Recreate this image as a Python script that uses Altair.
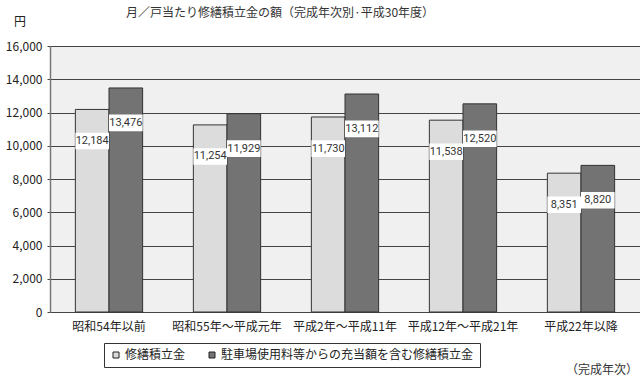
import altair as alt
import pandas as pd

categories = ["昭和54年以前", "昭和55年～平成元年", "平成2年～平成11年", "平成12年～平成21年", "平成22年以降"]
series = ["修繕積立金", "駐車場使用料等からの充当額を含む修繕積立金"]
values_a = [12184, 11254, 11730, 11538, 8351]
values_b = [13476, 11929, 13112, 12520, 8820]
y_ticks = [0, 2000, 4000, 6000, 8000, 10000, 12000, 14000, 16000]

rows = []
for c, a, b in zip(categories, values_a, values_b):
    rows.append({"cat": c, "series": series[0], "value": a, "order": 0})
    rows.append({"cat": c, "series": series[1], "value": b, "order": 1})
df = pd.DataFrame(rows)

FONT = "Noto Sans CJK JP"
W, H = 590, 266

x = alt.X("cat:N", sort=categories, title=None,
          scale=alt.Scale(paddingInner=0.43, paddingOuter=0.215),
          axis=alt.Axis(labelAngle=0, labelFontSize=12, labelColor="#222", labelFont=FONT,
                        ticks=False, domain=False, labelPadding=9, labelLimit=200))
xo = alt.XOffset("series:N", sort=series, scale=alt.Scale(paddingInner=0, paddingOuter=0))
color = alt.Color("series:N", sort=series,
                  scale=alt.Scale(domain=series, range=["#dcdcdc", "#737373"]),
                  legend=alt.Legend(title=None, orient="none", legendX=54, legendY=297,
                                    direction="horizontal", strokeColor="#333", padding=6,
                                    symbolType="square", symbolSize=36, symbolStrokeColor="#222",
                                    symbolStrokeWidth=1, labelFontSize=12, labelFont=FONT,
                                    labelColor="#222", columnPadding=20, labelLimit=400,
                                    labelOffset=3))

yscale = alt.Scale(domain=[0, 16000], nice=False)
yaxis = alt.Axis(values=y_ticks, format=",.0f", labelFontSize=12, labelColor="#222",
                 labelFont=FONT, tickSize=3, tickColor="#444", gridColor="#444",
                 gridWidth=1, domainColor="#777", domainWidth=1.5, labelPadding=5, title=None)
base = alt.Chart(df)

bars = base.mark_bar(stroke="#333", strokeWidth=1).encode(
    x=x, xOffset=xo,
    y=alt.Y("value:Q", title=None, scale=yscale, axis=yaxis),
    color=color,
)

boxes = base.transform_calculate(
    top="datum.order == 0 ? datum.value - 1400 : datum.value - 1600",
    bot="datum.order == 0 ? datum.value - 2400 : datum.value - 2600",
).mark_bar(color="white").encode(
    x=x, xOffset=xo,
    y=alt.Y("top:Q", title=None, scale=yscale, axis=yaxis),
    y2="bot:Q",
)

labels = base.transform_calculate(
    mid="datum.order == 0 ? datum.value - 1900 : datum.value - 2100",
).mark_text(fontSize=11, color="#333", font="Roboto", baseline="middle").encode(
    x=x, xOffset=xo,
    y=alt.Y("mid:Q", title=None, scale=yscale, axis=yaxis),
    text=alt.Text("value:Q", format=","),
)

title = alt.Chart(pd.DataFrame({"t": ["月／戸当たり修繕積立金の額（完成年次別·平成30年度）"]})).mark_text(
    fontSize=12, color="#333", font=FONT, align="left", baseline="middle"
).encode(x=alt.value(76), y=alt.value(-33), text="t:N")

yen = alt.Chart(pd.DataFrame({"t": ["円"]})).mark_text(
    fontSize=12, color="#222", font=FONT, align="center", baseline="middle"
).encode(x=alt.value(-30), y=alt.value(-24), text="t:N")

unit = alt.Chart(pd.DataFrame({"t": ["（完成年次）"]})).mark_text(
    fontSize=12, color="#333", font=FONT, align="right", baseline="middle"
).encode(x=alt.value(588), y=alt.value(324), text="t:N")

chart = alt.layer(bars, boxes, labels, title, yen, unit).properties(
    width=W, height=H,
    autosize=alt.AutoSizeParams(type="none"),
    padding={"left": 50, "top": 46, "right": 0, "bottom": 65},
    background="white",
).configure_view(fill="#f0f0f0", stroke=None)

chart.save("out.html", embed_options={"renderer": "svg", "actions": False})
